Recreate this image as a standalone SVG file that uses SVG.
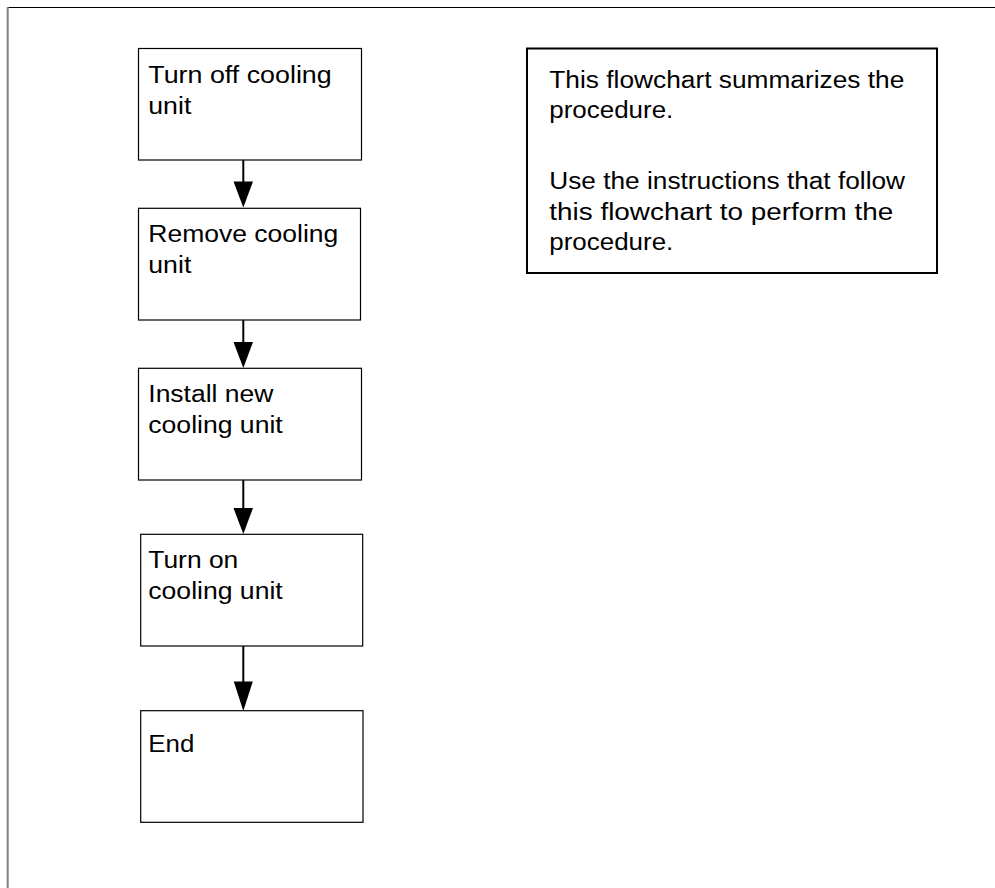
<svg xmlns="http://www.w3.org/2000/svg" width="995" height="888" viewBox="0 0 995 888">
  <defs>
    <style>
      .frame-top { stroke: #000; stroke-width: 1; fill: none; }
      .frame-left { stroke: #808080; stroke-width: 2; fill: none; }
      .step { fill: #fff; stroke: #000; stroke-width: 1.2; }
      .note { fill: #fff; stroke: #000; stroke-width: 2; }
      .label { font-family: "Liberation Sans", Arial, sans-serif; font-size: 23px; fill: #000; }
      .flow { stroke: #000; stroke-width: 2; fill: none; }
      .head { fill: #000; stroke: none; }
    </style>
  </defs>

  <rect x="0" y="0" width="995" height="888" fill="#fff"/>

  <!-- page frame -->
  <line class="frame-top" x1="7" y1="7.5" x2="995" y2="7.5"/>
  <line class="frame-left" x1="7.7" y1="7" x2="7.7" y2="888"/>

  <!-- connectors -->
  <g id="connectors">
    <line class="flow" x1="243.3" y1="160" x2="243.3" y2="185"/>
    <polygon class="head" points="233.5,181.5 253,181.5 243.3,207.5"/>

    <line class="flow" x1="243.3" y1="320" x2="243.3" y2="345"/>
    <polygon class="head" points="233.5,342 253,342 243.3,368"/>

    <line class="flow" x1="243.3" y1="480" x2="243.3" y2="511"/>
    <polygon class="head" points="233.5,508 253,508 243.3,534"/>

    <line class="flow" x1="243.3" y1="646" x2="243.3" y2="685"/>
    <polygon class="head" points="233.8,681.5 252.8,681.5 243.3,711"/>
  </g>

  <g id="step-turn-off">
    <rect class="step" x="138.5" y="48.5" width="223" height="111.5"/>
    <text class="label" x="148.3" y="82.5" textLength="183.4" lengthAdjust="spacingAndGlyphs">Turn off cooling</text>
    <text class="label" x="148.3" y="114.3" textLength="43" lengthAdjust="spacingAndGlyphs">unit</text>
  </g>

  <g id="step-remove">
    <rect class="step" x="138.5" y="208.3" width="222" height="111.7"/>
    <text class="label" x="148.3" y="241.5" textLength="190" lengthAdjust="spacingAndGlyphs">Remove cooling</text>
    <text class="label" x="148.3" y="272.5" textLength="43" lengthAdjust="spacingAndGlyphs">unit</text>
  </g>

  <g id="step-install">
    <rect class="step" x="138.5" y="368.3" width="223" height="111.7"/>
    <text class="label" x="148.3" y="401.5" textLength="125" lengthAdjust="spacingAndGlyphs">Install new</text>
    <text class="label" x="148.3" y="433" textLength="134.4" lengthAdjust="spacingAndGlyphs">cooling unit</text>
  </g>

  <g id="step-turn-on">
    <rect class="step" x="140.7" y="534.3" width="222" height="111.7"/>
    <text class="label" x="148.3" y="568" textLength="90" lengthAdjust="spacingAndGlyphs">Turn on</text>
    <text class="label" x="148.3" y="599.3" textLength="134.4" lengthAdjust="spacingAndGlyphs">cooling unit</text>
  </g>

  <g id="step-end">
    <rect class="step" x="140.7" y="710.7" width="222.3" height="111.6"/>
    <text class="label" x="148.3" y="752.3" textLength="46" lengthAdjust="spacingAndGlyphs">End</text>
  </g>

  <g id="summary-note">
    <rect class="note" x="527" y="48.5" width="410" height="224.5"/>
    <text class="label" x="549.3" y="88" textLength="355" lengthAdjust="spacingAndGlyphs">This flowchart summarizes the</text>
    <text class="label" x="549.3" y="118" textLength="124" lengthAdjust="spacingAndGlyphs">procedure.</text>
    <text class="label" x="549.3" y="189.3" textLength="355.7" lengthAdjust="spacingAndGlyphs">Use the instructions that follow</text>
    <text class="label" x="549.3" y="219.5" textLength="344" lengthAdjust="spacingAndGlyphs">this flowchart to perform the</text>
    <text class="label" x="549.3" y="249.5" textLength="124" lengthAdjust="spacingAndGlyphs">procedure.</text>
  </g>
</svg>
